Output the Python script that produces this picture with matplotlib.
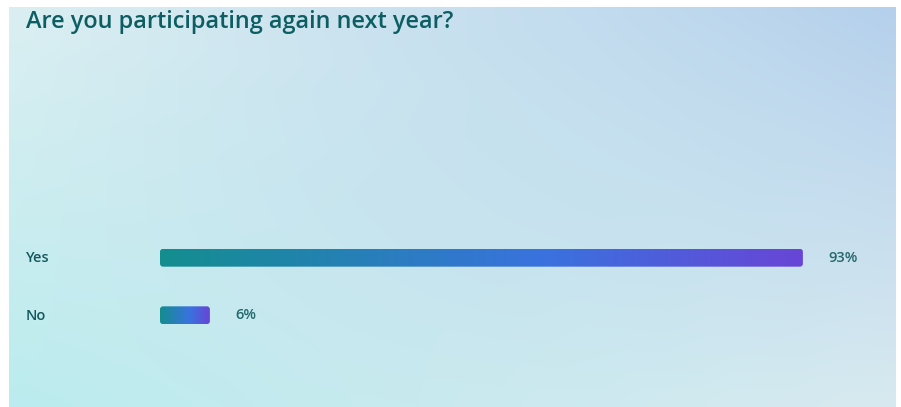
import numpy as np
import matplotlib
matplotlib.use('Agg')
import matplotlib.pyplot as plt
from matplotlib.colors import LinearSegmentedColormap, to_rgb
from matplotlib.patches import FancyBboxPatch

# Данные опроса
title = 'Are you participating again next year?'
answers = ['Yes', 'No']
shares = [93, 6]

W, H = 901, 407
fig = plt.figure(figsize=(W / 100, H / 100), dpi=100, facecolor='white')

# Фон: плавный градиент (углы панели)
bg = fig.add_axes([9 / W, 0, 887 / W, 400 / H])
tl, tr = np.array(to_rgb('#dbeff2')), np.array(to_rgb('#b5d0ec'))
bl, br = np.array(to_rgb('#bbecee')), np.array(to_rgb('#d8eaf0'))
mid = np.array(to_rgb('#c4e0ee'))
n = 60
u = np.linspace(0, 1, n)[None, :, None]
v = np.linspace(0, 1, n)[:, None, None]
img = (1 - u) * (1 - v) * tl + u * (1 - v) * tr + (1 - u) * v * bl + u * v * br
d = np.exp(-(((u - 0.55) / 0.35) ** 2 + ((v - 0.5) / 0.45) ** 2))
img = img * (1 - 0.35 * d) + mid * 0.35 * d
bg.imshow(img, aspect='auto', interpolation='bicubic', extent=[0, 1, 1, 0])
bg.set_axis_off()

fig.text(26 / W, 1 - 22 / H, title, fontsize=16.9, fontweight='semibold',
         family='Open Sans', color='#0d5e62', va='center', ha='left')

# Основная ось с полосами
px = 6.816          # пикселей на 1%
pad = 4.5 / px      # скругленный край выступает за значение
ax = fig.add_axes([160 / W, 1 - 344 / H, (100 + pad) * px / W, 115 / H])
ax.set_axis_off()

cmap = LinearSegmentedColormap.from_list(
    'bar', [(0, '#138e8f'), (0.6, '#3a72df'), (1, '#6845d6')])
grad = np.linspace(0, 1, 256)[None, :]

bh = 0.31
bars = ax.barh(range(len(answers)), shares, height=bh, alpha=0)
for bar, share in zip(bars, shares):
    y = bar.get_y()
    left = -pad
    right = share + pad
    patch = FancyBboxPatch((left, y), right - left, bh,
                           boxstyle='round,pad=0,rounding_size=0.45',
                           mutation_aspect=0.052 / 0.45,
                           facecolor='none', edgecolor='none')
    ax.add_patch(patch)
    im = ax.imshow(grad, cmap=cmap, aspect='auto',
                   extent=[left, right, y + bh, y], zorder=2)
    im.set_clip_path(patch)
    ax.text(right + 25 / px, y + bh / 2, f'{share}%', fontsize=10.5,
            fontweight='semibold', family='Open Sans', color='#23696d',
            va='center', ha='left')

ax.set_xlim(-pad, 100)
ax.set_ylim(1.5, -0.5)

for i, name in enumerate(answers):
    fig.text(26 / W, 1 - (258 + i * 57.5) / H, name, fontsize=10.5,
             fontweight='semibold', family='Open Sans', color='#13585c',
             va='center', ha='left')

fig.savefig('out.png', dpi=100, facecolor='white')
